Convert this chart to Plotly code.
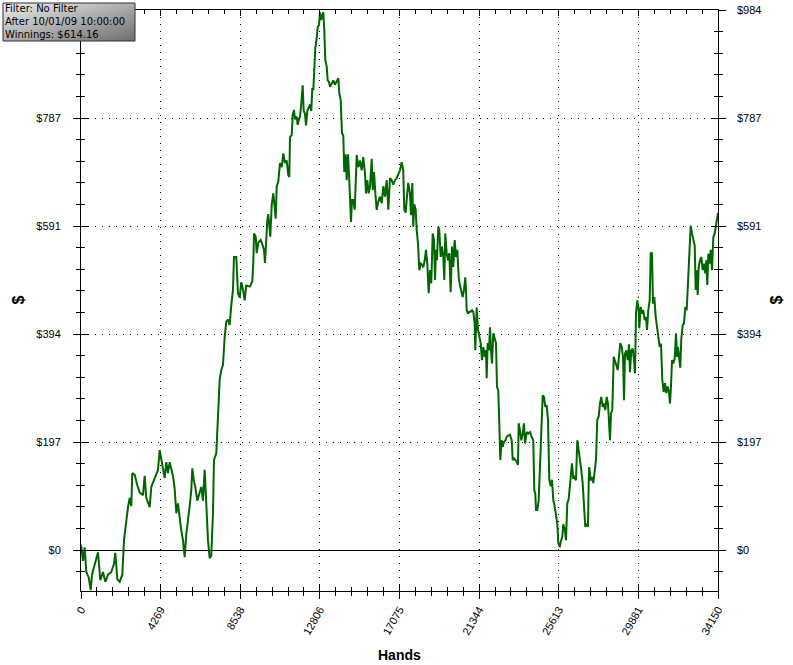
import base64
import plotly.graph_objects as go

# ---------------- data ----------------
hands = [
    0, 107, 198, 284, 413, 520, 590, 734, 911, 1035, 1179, 1303, 1447, 1624, 1769, 1839, 1946, 2074, 2214,
    2305, 2428, 2519, 2610, 2696, 2750, 2878, 3018, 3146, 3323, 3414, 3500, 3682, 3768, 3950, 4127, 4218,
    4304, 4486, 4572, 4663, 4754, 4931, 5022, 5108, 5199, 5290, 5376, 5467, 5558, 5644, 5735, 5826, 5912,
    5966, 6057, 6127, 6234, 6363, 6448, 6539, 6630, 6716, 6807, 6898, 6984, 7075, 7129, 7252, 7343, 7434,
    7520, 7611, 7702, 7788, 7879, 7970, 8056, 8147, 8201, 8324, 8415, 8506, 8592, 8683, 8774, 8860,
    9060, 9183, 9237, 9274, 9365, 9419, 9505, 9634, 9741, 9810, 9864, 9918, 9988, 10041, 10095, 10148,
    10224, 10309, 10363, 10438, 10491, 10577, 10668, 10760, 10845, 10936, 11028, 11113, 11167, 11204,
    11295, 11349, 11419, 11472, 11563, 11617, 11687, 11740, 11794, 11832, 11885, 11939, 12009, 12062,
    12132, 12207, 12277, 12346, 12400, 12454, 12507, 12561, 12636, 12690, 12760, 12813, 12867, 12920,
    12990, 13043, 13097, 13172, 13226, 13296, 13349, 13440, 13526, 13617, 13708, 13794, 13847, 13922,
    13992, 14062, 14116, 14190, 14244, 14314, 14368, 14421, 14475, 14529, 14599, 14674, 14727, 14781,
    14867, 14958, 15049, 15134, 15226, 15279, 15349, 15424, 15494, 15585, 15639, 15709, 15779, 15853,
    15939, 16030, 16121, 16207, 16298, 16389, 16475, 16566, 16657, 16743, 16834, 16924, 17010, 17101,
    17192, 17277, 17331, 17406, 17460, 17545, 17637, 17691, 17761, 17814, 17868, 17943, 17997, 18067,
    18136, 18211, 18281, 18351, 18426, 18495, 18565, 18640, 18710, 18779, 18854, 18924, 18978, 19031,
    19085, 19155, 19208, 19283, 19353, 19423, 19476, 19530, 19605, 19675, 19744, 19819, 19889, 19959,
    20034, 20103, 20173, 20248, 20318, 20387, 20462, 20532, 20602, 20640, 20677, 20747, 20816, 20891,
    20961, 21031, 21106, 21138, 21213, 21283, 21352, 21427, 21497, 21567, 21642, 21711, 21749, 21802,
    21873, 21926, 21980, 22034, 22103, 22178, 22248, 22302, 22372, 22425, 22479, 22554, 22608, 22677,
    22747, 22822, 22907, 22998, 23090, 23143, 23213, 23283, 23358, 23427, 23465, 23535, 23605, 23680,
    23749, 23803, 23894, 23980, 24071, 24162, 24247, 24301, 24355, 24393, 24462, 24537, 24607, 24677,
    24752, 24821, 24891, 24966, 25036, 25106, 25181, 25250, 25320, 25395, 25465, 25534, 25588, 25663,
    25733, 25802, 25856, 25931, 26001, 26070, 26145, 26252, 26322, 26391, 26466, 26536, 26606, 26681,
    26750, 26820, 26895, 26965, 27035, 27110, 27179, 27217, 27249, 27324, 27394, 27464, 27539, 27609,
    27678, 27753, 27823, 27893, 27968, 28038, 28108, 28183, 28252, 28306, 28360, 28413, 28483, 28558,
    28628, 28698, 28773, 28842, 28912, 28987, 29057, 29110, 29164, 29234, 29309, 29379, 29432, 29502,
    29577, 29646, 29700, 29754, 29824, 29899, 29931, 30006, 30075, 30145, 30220, 30290, 30343, 30413,
    30488, 30542, 30611, 30665, 30735, 30810, 30879, 30949, 31024, 31094, 31163, 31238, 31308, 31378,
    31453, 31522, 31576, 31630, 31684, 31753, 31828, 31898, 31952, 32005, 32075, 32128, 32182, 32257,
    32327, 32397, 32472, 32525, 32595, 32648, 32686, 32756, 32826, 32901, 32954, 33008, 33061, 33115,
    33185, 33255, 33330, 33400, 33470, 33523, 33577, 33631, 33706, 33759, 33829, 33899, 33974, 34027,
    34081, 34150,
]

winnings = [
    10, -20, 5, -40, -50, -73, -45, -24, -4, -55, -40, -58, -45, -40, -25, -5, -53, -58, -45,
    18, 55, 78, 95, 80, 140, 137, 118, 105, 100, 135, 95, 78, 115, 131, 146, 182,
    164, 131, 160, 140, 160, 135, 112, 67, 85, 55, 36, 18, -13, 29, 50, 80, 109,
    149, 125, 115, 90, 103, 115, 90, 146, 85, 18, -15, -10, 67, 164, 176, 231, 310,
    328, 337, 388, 416, 420, 410, 446, 474, 534, 534, 468, 460, 488, 475, 455, 482,
    480, 490, 523, 577, 571, 541, 560, 565, 555, 547, 523, 565, 601, 612, 580, 571,
    629, 650, 632, 604, 662, 672, 705, 698, 723, 705, 710, 683, 680, 753,
    756, 793, 802, 785, 790, 775, 785, 790, 807, 826, 847, 800, 795, 774,
    800, 806, 812, 800, 842, 838, 866, 915, 933, 953, 957, 980, 966, 975,
    980, 948, 893, 881, 856, 853, 844, 850, 856, 848, 856, 860, 833, 820,
    760, 755, 689, 721, 674, 721, 685, 638, 598, 638, 638, 620, 692, 720,
    698, 710, 692, 716, 686, 650, 674, 650, 662, 713, 656, 689, 650, 620,
    635, 644, 632, 663, 644, 674, 620, 678, 674, 666, 674, 678, 685, 692,
    707, 692, 620, 615, 638, 669, 650, 610, 669, 589, 630, 620, 583, 559,
    510, 522, 520, 515, 528, 547, 522, 468, 510, 486, 577, 565, 492, 547,
    528, 589, 583, 534, 553, 534, 492, 577, 541, 528, 541, 470, 553, 516,
    565, 534, 547, 497, 482, 468, 461, 474, 497, 474, 437, 431, 434, 434,
    437, 434, 413, 364, 442, 401, 389, 377, 346, 370, 352, 364, 313, 377,
    364, 406, 364, 340, 395, 386, 377, 297, 291, 231, 164, 200, 188, 197,
    200, 206, 209, 210, 200, 164, 167, 164, 161, 155, 231, 218, 200, 212,
    231, 194, 215, 212, 215, 206, 200, 109, 103, 73, 73, 91, 151, 198,
    282, 279, 261, 264, 237, 128, 116, 128, 91, 79, 60, 48, 13, 5,
    17, 24, 47, 38, 18, 85, 93, 137, 158, 130, 133, 127, 200, 182,
    158, 146, 122, 79, 42, 48, 42, 122, 151, 127, 133, 122, 140, 164,
    237, 243, 267, 279, 261, 267, 255, 279, 267, 219, 200, 249, 255, 352,
    346, 337, 328, 358, 377, 370, 352, 273, 358, 364, 346, 375, 324, 364,
    367, 346, 322, 431, 455, 437, 404, 443, 431, 437, 419, 425, 401, 437,
    455, 541, 541, 449, 461, 425, 406, 395, 370, 376, 310, 288, 304, 286,
    298, 288, 267, 298, 346, 340, 349, 395, 352, 370, 346, 332, 385, 410,
    413, 443, 437, 479, 516, 552, 591, 577, 567, 555, 474, 510, 465, 516,
    528, 534, 510, 522, 504, 528, 483, 540, 522, 547, 510, 570, 577, 590,
    601, 614.16,
]

x_tick_labels = ["0", "4269", "8538", "12806", "17075", "21344", "25613", "29881", "34150"]
y_tick_values = [0, 196.84, 393.66, 590.5, 787.33, 984.16]
y_tick_labels = ["$0", "$197", "$394", "$591", "$787", "$984"]
info_lines = ["Filter: No Filter", "After 10/01/09 10:00:00", "Winnings: $614.16"]

X_MAX = 34150
Y_MAX = 984.16
Y_MIN = -74.7

# ---------------- figure ----------------
W, H = 793, 665
L, R, T, B = 81, 75, 10, 74
pw, ph = W - L - R, H - T - B


def px_x(p):
    return (p - L) / pw


def px_y(p):
    return (H - B - p) / ph


x_tickvals = [i * X_MAX / 8 for i in range(9)]
# the top-left label is hidden under the info box in the reference
left_y_labels = y_tick_labels[:-1] + [""]

fig = go.Figure()
fig.add_trace(go.Scatter(
    x=hands, y=winnings, mode="lines",
    line=dict(color="#006600", width=2),
    hoverinfo="skip", showlegend=False,
))
fig.add_trace(go.Scatter(
    x=[None], y=[None], xaxis="x2", yaxis="y2", mode="lines",
    hoverinfo="skip", showlegend=False,
))

tick_font = dict(family="Liberation Sans, Arial, sans-serif", size=11, color="black")

fig.update_layout(
    template="none",
    width=W, height=H,
    margin=dict(l=L, r=R, t=T, b=B, autoexpand=False),
    paper_bgcolor="white", plot_bgcolor="white",
    showlegend=False,
    hovermode=False,
    xaxis=dict(
        automargin=False, color="black",
        range=[0, X_MAX], tickmode="array", tickvals=x_tickvals, ticktext=x_tick_labels,
        tickangle=-60, tickfont=tick_font,
        ticks="outside", ticklen=7, tickcolor="black", tickwidth=1,
        showline=True, linecolor="black", linewidth=1, mirror=True,
        showgrid=True, gridcolor="black", gridwidth=1, griddash="1px,6px",
        zeroline=False,
        minor=dict(tickmode="linear", tick0=0, dtick=X_MAX / 40, ticks="outside",
                   ticklen=4, tickcolor="black", showgrid=False),
    ),
    xaxis2=dict(
        automargin=False, color="black",
        overlaying="x", matches="x", range=[0, X_MAX], side="bottom",
        tickmode="array", tickvals=x_tickvals, showticklabels=False,
        ticks="inside", ticklen=6, tickcolor="black", tickwidth=1,
        showline=False, mirror="allticks", showgrid=False, zeroline=False,
        minor=dict(tickmode="linear", tick0=0, dtick=X_MAX / 40, ticks="inside",
                   ticklen=4, tickcolor="black", showgrid=False),
    ),
    yaxis=dict(
        automargin=False, color="black",
        range=[Y_MIN, Y_MAX], tickmode="array", tickvals=y_tick_values, ticktext=left_y_labels,
        tickfont=tick_font, ticklabelstandoff=10,
        ticks="outside", ticklen=7, tickcolor="black", tickwidth=1,
        showline=True, linecolor="black", linewidth=1, mirror="allticks",
        showgrid=True, gridcolor="black", gridwidth=1, griddash="1px,6px",
        zeroline=True, zerolinecolor="black", zerolinewidth=1,
        minor=dict(tickmode="linear", tick0=0, dtick=Y_MAX / 25, ticks="outside",
                   ticklen=4, tickcolor="black", showgrid=False),
    ),
    yaxis2=dict(
        automargin=False, color="black",
        overlaying="y", matches="y", range=[Y_MIN, Y_MAX], side="right",
        tickmode="array", tickvals=y_tick_values, ticktext=y_tick_labels,
        tickfont=tick_font, ticklabelstandoff=18,
        ticks="inside", ticklen=7, tickcolor="black", tickwidth=1,
        showline=False, mirror="allticks", showgrid=False, zeroline=False,
        minor=dict(tickmode="linear", tick0=0, dtick=Y_MAX / 25, ticks="inside",
                   ticklen=4, tickcolor="black", showgrid=False),
    ),
)

# axis titles
title_font = dict(family="Liberation Sans, Arial, sans-serif", size=14, color="black")
fig.add_annotation(text="<b>Hands</b>", xref="paper", yref="paper", x=0.5, y=px_y(655),
                   showarrow=False, font=title_font, xanchor="center", yanchor="middle")
fig.add_annotation(text="<b>$</b>", xref="paper", yref="paper", x=px_x(18), y=0.5,
                   showarrow=False, font=dict(title_font, size=16), textangle=-90,
                   xanchor="center", yanchor="middle")
fig.add_annotation(text="<b>$</b>", xref="paper", yref="paper", x=px_x(776), y=0.5,
                   showarrow=False, font=dict(title_font, size=16), textangle=-90,
                   xanchor="center", yanchor="middle")

# info box (gradient background)
bx0, by0, bx1, by1 = 3, 3, 135, 41
svg = (
    '<svg xmlns="http://www.w3.org/2000/svg" width="132" height="38">'
    '<defs><linearGradient id="g" x1="0" y1="0" x2="1" y2="1">'
    '<stop offset="0" stop-color="#eeeeee"/><stop offset="1" stop-color="#6e6e6e"/>'
    '</linearGradient></defs><rect width="132" height="38" fill="url(#g)"/></svg>'
)
src = "data:image/svg+xml;base64," + base64.b64encode(svg.encode()).decode()
fig.add_layout_image(dict(
    source=src, xref="paper", yref="paper", x=px_x(bx0), y=px_y(by0),
    sizex=(bx1 - bx0) / pw, sizey=(by1 - by0) / ph, xanchor="left", yanchor="top",
    sizing="stretch", layer="above",
))
fig.add_shape(type="rect", xref="paper", yref="paper",
              x0=px_x(bx0), x1=px_x(bx1), y0=px_y(by0), y1=px_y(by1),
              line=dict(color="#333333", width=1), fillcolor="rgba(0,0,0,0)", layer="above")
line_centres = [8.5, 21.5, 34.5]
for txt, yc in zip(info_lines, line_centres):
    fig.add_annotation(text=txt, xref="paper", yref="paper",
                       x=px_x(bx0 + 1), y=px_y(yc), xanchor="left", yanchor="middle",
                       align="left", showarrow=False, borderpad=0,
                       font=dict(family="DejaVu Sans, Verdana, sans-serif", size=10, color="black"))

fig.write_html(
    "out.html",
    config={"displayModeBar": False},
    post_script="document.body.style.margin='0';document.body.style.padding='0';",
)
